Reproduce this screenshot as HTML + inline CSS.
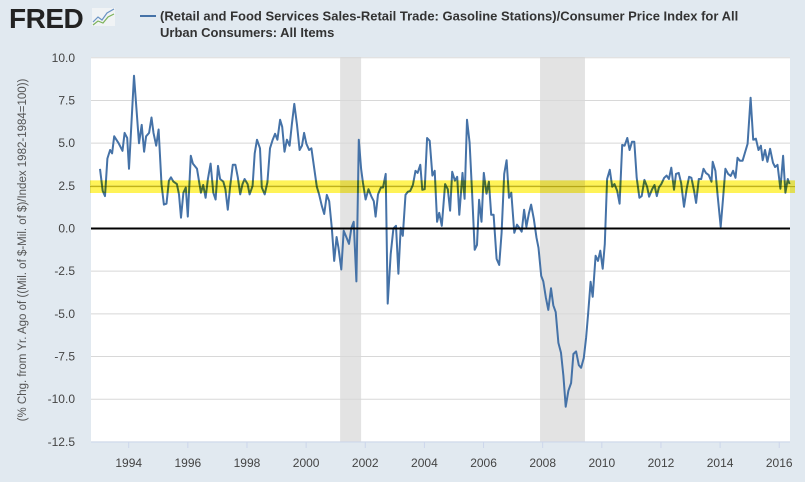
<!DOCTYPE html>
<html><head><meta charset="utf-8">
<style>
html,body{margin:0;padding:0;background:#e1e9f0;}
body{width:805px;height:477px;overflow:hidden;font-family:"Liberation Sans",sans-serif;}
</style></head>
<body>
<svg id="chart" width="805" height="477" xmlns="http://www.w3.org/2000/svg">
  <rect x="0" y="0" width="805" height="477" fill="#e1e9f0"/>
  <g>
    <text x="9" y="28" font-family="Liberation Sans, sans-serif" font-size="28" font-weight="bold" fill="#222" letter-spacing="-0.5">FRED</text>
    <rect x="92" y="8" width="23" height="18" fill="#f0f3f5"/>
    <polyline points="93,22 98,17 102,20 107,13 114,9" fill="none" stroke="#6a93c4" stroke-width="1.2"/>
    <polyline points="93,25 98,21 103,23 108,17 114,14" fill="none" stroke="#7cb35a" stroke-width="1.2"/>
  </g>
  <g>
    <line x1="140" y1="16" x2="156" y2="16" stroke="#4572a7" stroke-width="2"/>
    <text x="160" y="20.5" font-size="13" font-weight="bold" fill="#333">(Retail and Food Services Sales-Retail Trade: Gasoline Stations)/Consumer Price Index for All</text>
    <text x="160" y="37" font-size="13" font-weight="bold" fill="#333">Urban Consumers: All Items</text>
  </g>
  <rect x="91" y="57" width="699" height="385" fill="#ffffff"/>
  <g id="recessions"></g>
  <g id="grid"></g>
  <g id="series"></g>
  <g id="band"></g>
  <g id="zero"></g>
  <g id="axes"></g>
  <text transform="translate(26,250) rotate(-90)" text-anchor="middle" font-size="11.5" fill="#555">(% Chg. from Yr. Ago of ((Mil. of $-Mil. of $)/Index 1982-1984=100))</text>
</svg>
<script>
const dates = [1993.03,1993.12,1993.20,1993.28,1993.37,1993.44,1993.51,1993.66,1993.79,1993.86,1993.95,
1994.01,1994.18,1994.35,1994.44,1994.52,1994.59,1994.69,1994.77,1994.84,1994.93,1995.01,1995.11,1995.19,1995.28,1995.36,1995.43,1995.51,1995.63,1995.70,1995.77,1995.85,1995.93,
1996.00,1996.10,1996.17,1996.31,1996.44,1996.52,1996.60,1996.68,1996.77,1996.86,1996.94,1997.02,1997.09,1997.20,1997.27,1997.35,1997.43,1997.52,1997.61,1997.69,1997.77,1997.85,
1997.92,1998.02,1998.09,1998.19,1998.26,1998.34,1998.44,1998.50,1998.60,1998.69,1998.78,1998.87,1998.95,1999.03,1999.12,1999.19,1999.27,1999.35,1999.44,1999.52,1999.60,1999.69,1999.78,1999.86,
1999.93,2000.01,2000.10,2000.18,2000.36,2000.44,2000.53,2000.61,2000.70,2000.78,2000.87,2000.95,2001.03,2001.09,2001.19,2001.27,2001.36,2001.45,2001.53,2001.61,2001.70,2001.78,2001.86,
2001.92,2002.01,2002.11,2002.21,2002.29,2002.35,2002.43,2002.53,2002.60,2002.69,2002.76,2002.86,2002.95,2003.04,2003.12,2003.20,2003.27,2003.36,2003.44,2003.52,2003.61,2003.70,2003.77,2003.86,
2003.93,2004.01,2004.09,2004.18,2004.27,2004.35,2004.43,2004.50,2004.59,2004.70,2004.79,2004.87,2004.94,2005.03,2005.11,2005.18,2005.29,2005.36,2005.44,2005.53,2005.61,2005.70,2005.78,
2005.85,2005.93,2006.01,2006.10,2006.18,2006.26,2006.34,2006.44,2006.53,2006.61,2006.70,2006.78,2006.86,2006.94,2007.04,2007.13,2007.21,2007.29,2007.37,2007.45,2007.53,2007.61,2007.70,2007.79,
2007.86,2007.95,2008.02,2008.11,2008.19,2008.28,2008.36,2008.44,2008.53,2008.62,2008.70,2008.78,2008.87,2008.96,2009.04,2009.13,2009.22,2009.30,2009.39,2009.47,2009.54,2009.62,2009.69,2009.79,
2009.87,2009.95,2010.03,2010.10,2010.18,2010.27,2010.35,2010.43,2010.52,2010.60,2010.69,2010.77,2010.86,2010.94,2011.02,2011.10,2011.18,2011.27,2011.35,2011.44,2011.53,2011.60,2011.70,
2011.78,2011.86,2011.93,2012.01,2012.11,2012.19,2012.27,2012.35,2012.44,2012.51,2012.60,2012.68,2012.78,2012.87,2012.95,2013.03,2013.12,2013.19,2013.28,2013.36,2013.44,2013.52,2013.61,2013.71,
2013.75,2013.84,2013.92,2014.02,2014.10,2014.18,2014.27,2014.36,2014.44,2014.52,2014.59,2014.67,2014.76,2014.84,2014.93,2015.03,2015.12,2015.21,2015.30,2015.38,2015.44,2015.52,2015.60,2015.69,2015.79,2015.86,2015.94,2016.04,2016.13,2016.21,2016.29,2016.35];
const values = [3.49,2.2,1.9,4.1,4.6,4.4,5.4,5.0,4.55,5.6,5.3,
3.5,8.95,5.0,6.07,4.5,5.4,5.6,6.5,5.6,4.85,5.8,2.6,1.4,1.45,2.8,3.0,2.75,2.6,2.0,0.63,2.1,2.4,
0.7,4.26,3.8,3.5,2.1,2.55,1.8,2.9,3.8,2.1,1.7,3.67,2.9,2.75,2.3,1.1,2.45,3.73,3.73,3.0,2.0,2.6,
2.9,2.6,2.0,2.5,4.4,5.2,4.7,2.4,2.0,2.7,4.7,5.2,5.55,5.2,6.37,5.96,4.5,5.2,4.85,6.13,7.3,6.07,4.6,4.85,
5.6,4.96,4.6,4.7,2.45,2.0,1.33,0.85,1.97,1.6,0.04,-1.9,-0.5,-1.1,-2.4,-0.13,-0.5,-0.9,0.04,0.39,-3.1,5.2,3.5,
2.7,1.7,2.3,1.86,1.6,0.7,2.0,2.4,2.4,3.2,-4.4,-1.5,0,0.16,-2.65,0.04,-0.43,1.97,2.15,2.2,2.55,3.38,3.26,3.73,
2.27,2.3,5.3,5.14,3.1,3.38,0.39,0.92,0.16,2.6,2.3,1.04,3.32,2.8,3.03,0.8,3.26,1.74,6.37,5.03,2.2,-1.25,-0.96,
1.68,0.39,3.26,2.03,2.74,0.8,0.8,-1.78,-2.13,-0.25,3.2,4.0,1.8,2.1,-0.25,0.22,0.04,-0.19,1.1,0.1,0.86,1.4,0.57,-0.54,
-1.13,-2.77,-3.1,-4.06,-4.77,-3.5,-4.5,-4.9,-6.7,-7.28,-8.63,-10.44,-9.5,-9.05,-7.35,-7.2,-8.0,-8.16,-7.58,-6.4,-4.94,-3.12,-4.0,-1.6,
-1.9,-1.3,-2.36,-0.9,2.9,3.44,2.45,2.6,2.2,1.45,4.9,4.85,5.3,4.6,5.08,5.08,2.97,1.8,1.9,2.85,2.45,1.86,2.3,
2.55,1.9,2.4,2.6,2.97,3.1,2.9,3.56,2.27,3.2,3.26,2.68,1.27,2.33,3.03,2.97,2.2,1.5,2.9,2.9,3.5,3.26,3.14,2.74,
3.91,3.38,1.9,0.1,1.8,3.5,3.2,3.08,3.38,2.97,4.14,3.97,3.97,4.43,4.96,7.66,5.2,5.26,4.6,4.85,4.0,4.6,3.91,4.67,3.85,3.6,3.73,2.33,4.26,2.1,2.9,2.6];
const yTicks = [10.0,7.5,5.0,2.5,0.0,-2.5,-5.0,-7.5,-10.0,-12.5];
const xTicks = [1994,1996,1998,2000,2002,2004,2006,2008,2010,2012,2014,2016];
const recessionStarts = [2001.15,2007.91];
const recessionEnds = [2001.86,2009.43];
const bandCenter = 2.45;
const bandHalf = 0.37;

const NS = "http://www.w3.org/2000/svg";
const PL = 91, PR = 790, PT = 57, PB = 442;
function xs(t){ return 128.7 + (t - 1994) * 29.57; }
function ys(v){ return 228.5 - v * 17.07; }
function mk(tag, attrs, parent){
  const e = document.createElementNS(NS, tag);
  for (const k in attrs) e.setAttribute(k, attrs[k]);
  parent.appendChild(e);
  return e;
}
const gRec = document.getElementById('recessions');
const gGrid = document.getElementById('grid');
const gSer = document.getElementById('series');
const gBand = document.getElementById('band');
const gZero = document.getElementById('zero');
const gAx = document.getElementById('axes');

recessionStarts.forEach((s, i) => {
  const r = mk('rect', {x: xs(s), y: PT, width: xs(recessionEnds[i]) - xs(s), height: PB - PT, fill: '#e3e3e3'}, gRec);
  
  
});

yTicks.forEach(v => {
  const y = ys(v);
  const l = mk('line', {x1: PL, x2: PR, y1: y, y2: y, stroke: v === 0 ? '#000' : '#d8d8d8', 'stroke-width': v === 0 ? 2 : 1}, v === 0 ? gZero : gGrid);
  
  
  const t = mk('text', {x: 75, y: y + 4, 'text-anchor': 'end', 'font-size': 12, fill: '#444'}, gAx);
  t.textContent = v.toFixed(1);
  
  
});
const pts = dates.map((d, i) => xs(d).toFixed(1) + ',' + ys(values[i]).toFixed(1)).join(' ');
const line = mk('polyline', {points: pts, fill: 'none', stroke: '#4572a7', 'stroke-width': 2, 'stroke-linejoin': 'round'}, gSer);



const band = mk('rect', {x: 90, y: ys(bandCenter + bandHalf), width: 705, height: ys(bandCenter - bandHalf) - ys(bandCenter + bandHalf), fill: '#fff13a', opacity: 0.85, style: 'mix-blend-mode:multiply'}, gBand);


const bl = mk('line', {x1: 90, x2: 795, y1: ys(bandCenter), y2: ys(bandCenter), stroke: '#c8c030', 'stroke-width': 1, style: 'mix-blend-mode:multiply'}, gBand);



const ax = mk('line', {x1: PL, x2: PR, y1: PB, y2: PB, stroke: '#ccd6eb', 'stroke-width': 1}, gAx);


xTicks.forEach(yr => {
  const x = xs(yr);
  const tk = mk('line', {x1: x, x2: x, y1: PB, y2: PB + 6, stroke: '#ccd6eb', 'stroke-width': 1}, gAx);
  
  
  const t = mk('text', {x: x, y: PB + 25, 'text-anchor': 'middle', 'font-size': 12, fill: '#444'}, gAx);
  t.textContent = String(yr);
  
  
});
</script>
</body></html>
